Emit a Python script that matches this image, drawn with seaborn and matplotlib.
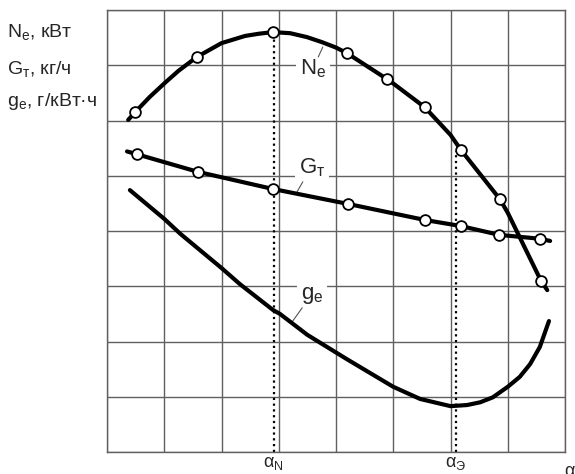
import numpy as np
import pandas as pd
import matplotlib
matplotlib.use("Agg")
import matplotlib.pyplot as plt
import seaborn as sns

# Кривые в единицах сетки (8 x 8 клеток)
ne_x = [0.37, 0.49, 0.75, 1.01, 1.25, 1.57, 2.00, 2.41, 2.65, 2.90, 3.20, 3.49, 3.75, 4.00, 4.19,
        4.89, 5.00, 5.55, 6.00, 6.18, 6.86, 7.00, 7.58, 7.69]
ne_y = [6.01, 6.15, 6.43, 6.68, 6.90, 7.15, 7.40, 7.53, 7.57, 7.60, 7.58, 7.51, 7.42, 7.32, 7.22,
        6.75, 6.67, 6.24, 5.74, 5.47, 4.58, 4.33, 3.10, 2.93]
ne_pts_x = [0.49, 1.57, 2.90, 4.19, 4.89, 5.55, 6.18, 6.86, 7.58]
ne_pts_y = [6.15, 7.15, 7.60, 7.22, 6.75, 6.24, 5.47, 4.58, 3.10]

gt_x = [0.35, 0.52, 1.59, 2.90, 4.21, 5.55, 6.18, 6.85, 7.56, 7.74]
gt_y = [5.44, 5.39, 5.07, 4.76, 4.49, 4.20, 4.09, 3.93, 3.86, 3.82]
gt_pts_x = [0.52, 1.59, 2.90, 4.21, 5.55, 6.18, 6.85, 7.56]
gt_pts_y = [5.39, 5.07, 4.76, 4.49, 4.20, 4.09, 3.93, 3.86]

ge_x = [0.40, 1.00, 1.28, 2.00, 2.32, 2.90, 3.02, 3.50, 4.19, 5.00, 5.47, 6.00, 6.29, 6.52, 6.74, 7.00,
        7.21, 7.39, 7.56, 7.72]
ge_y = [4.74, 4.22, 3.95, 3.33, 3.04, 2.57, 2.50, 2.12, 1.68, 1.18, 0.96, 0.83, 0.85, 0.90, 0.99, 1.18,
        1.36, 1.59, 1.90, 2.37]

alpha_n = 2.91
alpha_e = 6.09

sns.set_style("white")
plt.rcParams["font.family"] = ["Liberation Sans", "DejaVu Sans"]
plt.rcParams["mathtext.fontset"] = "custom"
plt.rcParams["mathtext.rm"] = "Liberation Sans"
plt.rcParams["mathtext.it"] = "Liberation Sans"
plt.rcParams["mathtext.default"] = "regular"

fig = plt.figure(figsize=(5.75, 4.74), dpi=100)
ax = fig.add_axes([107 / 575, 22 / 474, 458 / 575, 442 / 474])
ax.set_xlim(0, 8)
ax.set_ylim(0, 8)

# сетка
for k in range(9):
    ax.axvline(k, color="#606060", lw=1.0, zorder=1)
    ax.axhline(k, color="#606060", lw=1.0, zorder=1)
for s in ax.spines.values():
    s.set_color("#606060")
    s.set_linewidth(1.0)
ax.set_xticks([])
ax.set_yticks([])

# пунктирные вертикали
ax.plot([alpha_n, alpha_n], [0, ne_pts_y[2]], color="black", lw=1.6, ls=(0, (1, 1.6)), zorder=2)
ax.plot([alpha_e, alpha_e], [0, 5.45], color="black", lw=1.6, ls=(0, (1, 1.6)), zorder=2)

for cx, cy in [(ne_x, ne_y), (gt_x, gt_y), (ge_x, ge_y)]:
    sns.lineplot(x=cx, y=cy, sort=False, estimator=None, color="black",
                 lw=3.0, ax=ax, zorder=3, solid_joinstyle="round")

pts = pd.DataFrame({"x": ne_pts_x + gt_pts_x, "y": ne_pts_y + gt_pts_y})
sns.scatterplot(data=pts, x="x", y="y", s=60, color="white", edgecolor="black",
                linewidth=1.3, ax=ax, zorder=4)

# подписи кривых
box = dict(facecolor="white", edgecolor="none", pad=3)
ax.text(3.60, 6.93, "N$_e$", fontsize=16, ha="center", va="center", bbox=box, zorder=2)
ax.text(3.58, 5.14, "G$_т$", fontsize=16, ha="center", va="center", bbox=box, zorder=2)
ax.text(3.58, 2.83, "g$_e$", fontsize=16, ha="center", va="center", bbox=box, zorder=2)
ax.plot([3.77, 3.69], [7.33, 7.15], color="#555555", lw=0.8, zorder=2)
ax.plot([3.42, 3.32], [4.89, 4.71], color="#555555", lw=0.8, zorder=2)
ax.plot([3.41, 3.23], [2.61, 2.35], color="#555555", lw=0.8, zorder=2)

# подписи осей
fig.text(7 / 575, 1 - 32 / 474, "N$_e$, кВт", fontsize=14, ha="left", va="center")
fig.text(7 / 575, 1 - 69 / 474, "G$_т$, кг/ч", fontsize=14, ha="left", va="center")
fig.text(7 / 575, 1 - 101 / 474, "g$_e$, г/кВт·ч", fontsize=14, ha="left", va="center")

ax.text(alpha_n, -0.27, "α$_N$", fontsize=13, ha="center", va="baseline")
ax.text(alpha_e, -0.27, "α$_Э$", fontsize=13, ha="center", va="baseline")
ax.text(7.98, -0.2, "α", fontsize=13, ha="left", va="top", clip_on=False)

sns.despine(ax=ax, top=False, right=False, left=False, bottom=False)
fig.savefig("out.png", dpi=100)
